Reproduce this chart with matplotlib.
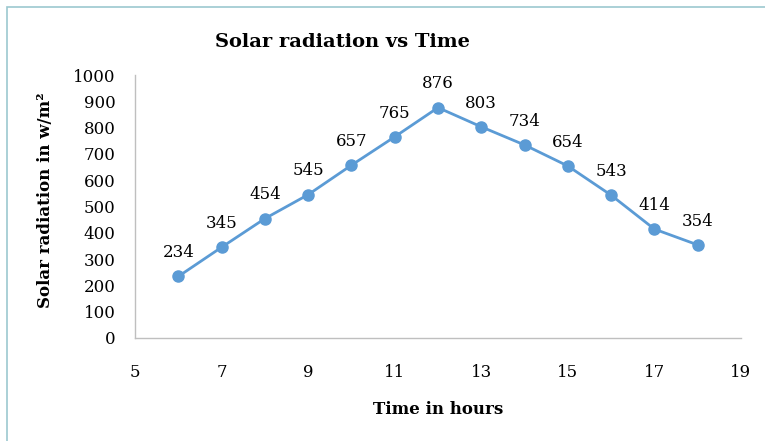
import matplotlib.pyplot as plt
from matplotlib.patches import Rectangle

hours = [6, 7, 8, 9, 10, 11, 12, 13, 14, 15, 16, 17, 18]
radiation = [234, 345, 454, 545, 657, 765, 876, 803, 734, 654, 543, 414, 354]
x_ticks = [5, 7, 9, 11, 13, 15, 17, 19]
y_ticks = list(range(0, 1001, 100))

plt.rcParams["font.family"] = ["DejaVu Serif"]

fig = plt.figure(figsize=(7.65, 4.41), dpi=100)
W, H = 765, 441
ax = fig.add_axes([135 / W, 1 - 338 / H, (741 - 135) / W, (338 - 75) / H])

line_col = "#5B9BD5"
ax.plot(hours, radiation, color=line_col, linewidth=2, marker="o", markersize=8)

for x, y in zip(hours, radiation):
    ax.annotate(str(y), (x, y), xytext=(0, 11), textcoords="offset points",
                ha="center", va="bottom", fontsize=12)

ax.set_xlim(5, 19)
ax.set_ylim(0, 1000)
ax.set_xticks(x_ticks)
ax.set_yticks(y_ticks)
ax.tick_params(axis="x", length=0, pad=19, labelsize=12)
ax.tick_params(axis="y", length=0, pad=14, labelsize=12)

for s in ["top", "right"]:
    ax.spines[s].set_visible(False)
for s in ["left", "bottom"]:
    ax.spines[s].set_color("#BFBFBF")
    ax.spines[s].set_linewidth(1)

fig.text(342 / W, 1 - 42 / H, "Solar radiation vs Time", ha="center", va="center",
         fontsize=14, fontweight="bold")
fig.text(438 / W, 1 - 410 / H, "Time in hours", ha="center", va="center",
         fontsize=12, fontweight="bold")
fig.text(46 / W, 1 - 200 / H, "Solar radiation in w/m²", ha="center", va="center",
         rotation=90, fontsize=12, fontweight="bold")

# outer chart frame
fig.add_artist(Rectangle((7 / W, -0.01), 1.1, 1 - 7 / H + 0.01, transform=fig.transFigure,
                         fill=False, edgecolor="#9CC8CF", linewidth=1.2))

fig.savefig("out.png", dpi=100)
